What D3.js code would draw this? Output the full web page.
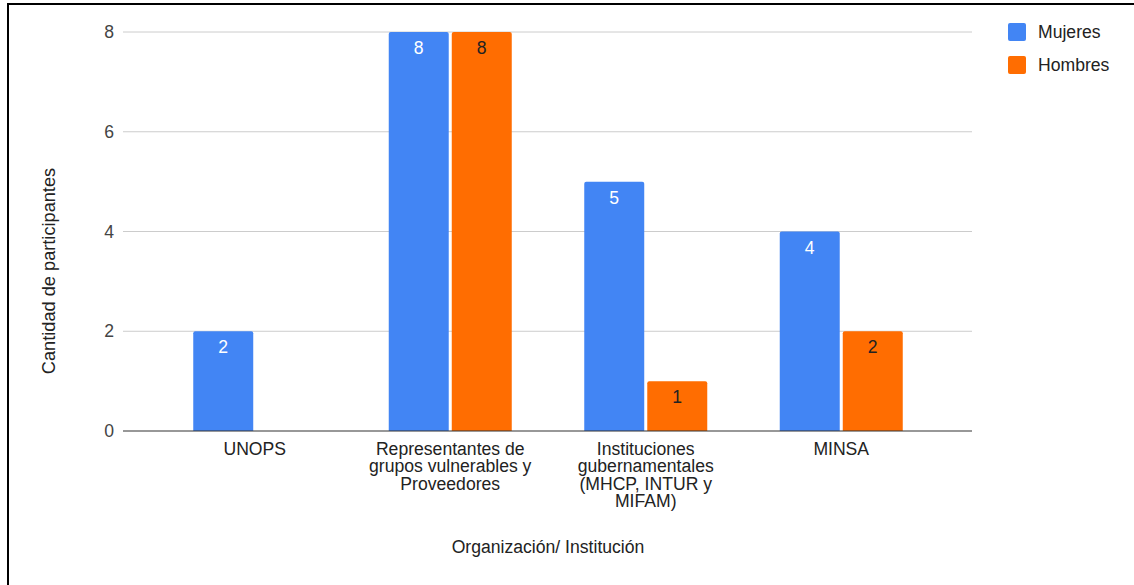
<!DOCTYPE html>
<html>
<head>
<meta charset="utf-8">
<script src="https://cdn.jsdelivr.net/npm/d3@7"></script>
<style>
  html, body { margin: 0; padding: 0; background: #fff; }
  svg { display: block; font-family: Arial, "Liberation Sans", sans-serif; }
</style>
</head>
<body>
<svg id="chart" width="1134" height="585"></svg>
<script>
const categories = [
  ["UNOPS"],
  ["Representantes de", "grupos vulnerables y", "Proveedores"],
  ["Instituciones", "gubernamentales", "(MHCP, INTUR y", "MIFAM)"],
  ["MINSA"]
];
const categoryKeys = ["UNOPS", "Representantes", "Instituciones", "MINSA"];
const seriesNames = ["Mujeres", "Hombres"];
const mujeres = [2, 8, 5, 4];
const hombres = [0, 8, 1, 2];
const yTicks = [0, 2, 4, 6, 8];
const colors = ["#4285F4", "#FF6D01"];
const labelColors = ["#ffffff", "#222222"];

const FS = 17.6;
const svg = d3.select("#chart");

// frame (left + top lines)
svg.append("line").attr("x1", 8).attr("x2", 8).attr("y1", 3).attr("y2", 585)
  .attr("stroke", "#000").attr("stroke-width", 2);
svg.append("line").attr("x1", 7).attr("x2", 1134).attr("y1", 4).attr("y2", 4)
  .attr("stroke", "#000").attr("stroke-width", 2);

const y = d3.scaleLinear().domain([0, 8]).range([431, 32]);
const x0 = d3.scalePoint().domain(categoryKeys).range([157, 939]).padding(0.5);
const x1 = d3.scaleBand().domain(seriesNames).range([-61.5, 61.5]).paddingInner(0.048);

const gridX1 = 123, gridX2 = 972;

// gridlines
svg.append("g").selectAll("line").data(yTicks.filter(d => d !== 0)).join("line")
  .attr("x1", gridX1).attr("x2", gridX2)
  .attr("y1", d => y(d)).attr("y2", d => y(d))
  .attr("stroke", "#cccccc").attr("stroke-width", 1);

// y tick labels
svg.append("g").selectAll("text").data(yTicks).join("text")
  .attr("x", 114).attr("y", d => y(d)).attr("dy", "0.35em")
  .attr("text-anchor", "end").attr("font-size", FS).attr("fill", "#444")
  .text(d => d);

const data = seriesNames.map((s, i) => ({ name: s, values: i === 0 ? mujeres : hombres, i }));

// bars
data.forEach(series => {
  const g = svg.append("g");
  series.values.forEach((v, ci) => {
    if (v <= 0) return;
    const xs = x0(categoryKeys[ci]) + x1(series.name);
    const w = x1.bandwidth();
    const top = y(v), bottom = y(0);
    const r = 2;
    const path = `M${xs},${bottom} L${xs},${top + r} Q${xs},${top} ${xs + r},${top} L${xs + w - r},${top} Q${xs + w},${top} ${xs + w},${top + r} L${xs + w},${bottom} Z`;
    g.append("path").attr("d", path).attr("fill", colors[series.i]);
    g.append("text").attr("x", xs + w / 2).attr("y", top + 16).attr("dy", "0.35em")
      .attr("text-anchor", "middle").attr("font-size", FS)
      .attr("fill", labelColors[series.i]).text(v);
  });
});

// zero line
svg.append("line").attr("x1", gridX1).attr("x2", gridX2)
  .attr("y1", y(0)).attr("y2", y(0)).attr("stroke", "#333").attr("stroke-width", 1.2);

// category labels
categories.forEach((lines, ci) => {
  const t = svg.append("text").attr("text-anchor", "middle").attr("font-size", FS).attr("fill", "#222");
  lines.forEach((ln, li) => {
    t.append("tspan").attr("x", x0(categoryKeys[ci])).attr("y", 455 + li * 17.4).text(ln);
  });
});

// axis titles
svg.append("text").attr("x", 548).attr("y", 553).attr("text-anchor", "middle")
  .attr("font-size", FS).attr("fill", "#222").text("Organización/ Institución");
svg.append("text").attr("transform", "translate(55,271) rotate(-90)").attr("text-anchor", "middle")
  .attr("font-size", 18.2).attr("fill", "#222").text("Cantidad de participantes");

// legend
seriesNames.forEach((s, i) => {
  const ly = 23 + i * 33;
  svg.append("rect").attr("x", 1008).attr("y", ly).attr("width", 18).attr("height", 18)
    .attr("rx", 2).attr("fill", colors[i]);
  svg.append("text").attr("x", 1038).attr("y", ly + 9).attr("dy", "0.35em")
    .attr("font-size", FS).attr("fill", "#222").text(s);
});
</script>
</body>
</html>
